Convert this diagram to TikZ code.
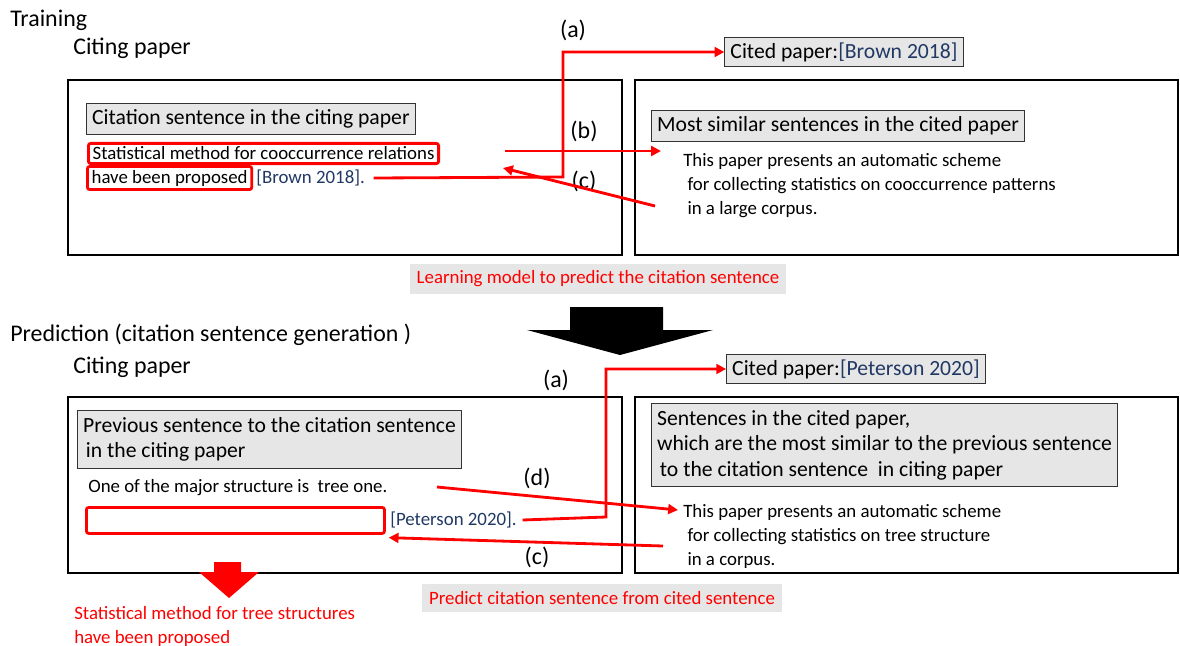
\documentclass[tikz,border=0pt]{standalone}
\usepackage{fontspec}
\setmainfont{Carlito}
\usepackage{xcolor}
\definecolor{citenavy}{RGB}{32, 56, 100}
\definecolor{boxgray}{RGB}{231, 230, 230}
\definecolor{markred}{RGB}{255, 0, 0}
\usepackage{tikz}
\usetikzlibrary{arrows.meta, positioning}
\newcommand{\headtxt}{\fontsize{17}{20}\selectfont}
\newcommand{\largetxt}{\fontsize{15.4}{18}\selectfont}
\newcommand{\smalltxt}{\fontsize{13.4}{17}\selectfont}
\tikzset{
  panel/.style = {
    draw=black,
    line width=1pt
  },
  titlebox/.style = {
    rectangle,
    draw=black!80,
    fill=boxgray,
    font=\largetxt,
    align=left,
    inner xsep=4pt,
    inner ysep=4.5pt,
    line width=0.7pt
  },
  plaintext/.style = {
    font=\headtxt,
    inner sep=0pt,
    anchor=west
  },
  bodytext/.style = {
    font=\smalltxt,
    align=left,
    inner sep=0pt
  },
  markbox/.style = {
    rectangle,
    rounded corners=0.6mm,
    draw=markred,
    line width=2pt,
    font=\smalltxt,
    inner xsep=3pt,
    inner ysep=2.5pt
  },
  notelabel/.style = {
    rectangle,
    fill=boxgray,
    text=markred,
    font=\smalltxt,
    inner xsep=5pt,
    inner ysep=5pt
  },
  redarrow/.style = {
    -{Triangle[length=7pt, width=7pt]},
    line width=2pt,
    draw=markred
  }
}

\begin{document}
\begin{tikzpicture}[x=0.025cm, y=-0.025cm]
  \useasboundingbox (0,0) rectangle (1180,646);

  % Training part
  \node[plaintext] at (10,20) (train) {Training};
  \node[plaintext] at (73,48) (citing1) {Citing paper};
  \node[plaintext, anchor=center] at (573,30) (lbla1) {(a)};
  \node[titlebox, inner ysep=3.5pt] at (844,52) (cited1) {Cited paper:\textcolor{citenavy}{[Brown 2018]}};

  \draw[panel] (68,80) rectangle (622,255);
  \draw[panel] (635,80) rectangle (1178,255);

  \node[titlebox, anchor=west] at (86,119) (head1) {Citation sentence in the citing paper};
  \node[markbox, anchor=west] at (87,153.5) (sent1) {Statistical method for cooccurrence relations};
  \node[markbox, anchor=west] at (86,178) (sent1b) {have been proposed};
  \node[bodytext, anchor=west, text=citenavy] at ([xshift=2pt]sent1b.east) (cite1) {[Brown 2018].};

  \node[plaintext, anchor=center] at (584,131) (lblb) {(b)};
  \node[plaintext, anchor=center] at (584,181) (lblc1) {(c)};

  \node[titlebox, anchor=west] at (651,126) (head2) {Most similar sentences in the cited paper};
  \node[bodytext, anchor=north west] at (683,153) (body1) {This paper presents an automatic scheme\\
    \hspace{3pt}for collecting statistics on cooccurrence patterns\\
    \hspace{3pt}in a large corpus.};

  % connectors (a) (b) (c)
  \coordinate (aturn1) at (563,177);
  \coordinate (bstart1) at (505,151);
  \coordinate (bend1) at (661,151);
  \coordinate (cstart1) at (655,206);
  \coordinate (cend1) at (503,168);
  \draw[redarrow] ([xshift=6pt]cite1.east) -- (aturn1) |- (cited1.west);
  \draw[redarrow] (bstart1) -- (bend1);
  \draw[redarrow] (cstart1) -- (cend1);

  \node[notelabel] at (598,279) (learn) {Learning model to predict the citation sentence};

  % Big arrow
  \fill[black] (570,307) -- (663,307) -- (663,330) -- (713,330) -- (620,355) -- (527,330) -- (570,330) -- cycle;

  % Prediction part
  \node[plaintext] at (10,335) (pred) {Prediction (citation sentence generation )};
  \node[plaintext] at (73,367) (citing2) {Citing paper};
  \node[plaintext, anchor=center] at (556,380) (lbla2) {(a)};
  \node[titlebox, inner ysep=3.5pt] at (856,369) (cited2) {Cited paper:\textcolor{citenavy}{[Peterson 2020]}};

  \draw[panel] (68,397) rectangle (622,573);
  \draw[panel] (635,397) rectangle (1178,573);

  \node[titlebox, anchor=north west, inner ysep=5pt] at (77,410) (head3) {Previous sentence to the citation sentence\\
    \hspace{2pt}in the citing paper};
  \node[bodytext, anchor=west] at (88,488) (prev) {One of the major structure is\ \ tree one.};
  \node[markbox, anchor=north west, minimum width=7.45cm, minimum height=0.65cm] at (85,506) (blank) {};
  \node[bodytext, anchor=west, text=citenavy] at (390,520) (cite2) {[Peterson 2020].};

  \node[plaintext, anchor=center] at (537,478) (lbld) {(d)};
  \node[plaintext, anchor=center] at (537,557) (lblc2) {(c)};

  \node[titlebox, anchor=north west, inner ysep=5pt] at (651,403) (head4) {Sentences in the cited paper,\\
    which are the most similar to the previous sentence\\
    \hspace{2pt}to the citation sentence\ \ in citing paper};
  \node[bodytext, anchor=north west] at (683,504) (body2) {This paper presents an automatic scheme\\
    \hspace{3pt}for collecting statistics on tree structure\\
    \hspace{3pt}in a corpus.};

  % connectors (a) (d) (c)
  \coordinate (aturn2) at (606,517);
  \coordinate (dstart) at (437,487);
  \coordinate (dend) at (678,510);
  \coordinate (cstart2) at (663,546);
  \draw[redarrow] ([xshift=4pt]cite2.east) -- (aturn2) |- (cited2.west);
  \draw[redarrow] (dstart) -- (dend);
  \draw[redarrow] (cstart2) -- ([xshift=2pt, yshift=-2pt]blank.south east);

  % Red result arrow
  \fill[markred] (214,562) -- (241,562) -- (241,572) -- (259,572) -- (229,598) -- (199,572) -- (214,572) -- cycle;
  \node[bodytext, anchor=north west, text=markred] at (74,606) (result) {Statistical method for tree structures\\have been proposed};

  \node[notelabel] at (602,598) (predict) {Predict citation sentence from cited sentence};
\end{tikzpicture}
\end{document}
